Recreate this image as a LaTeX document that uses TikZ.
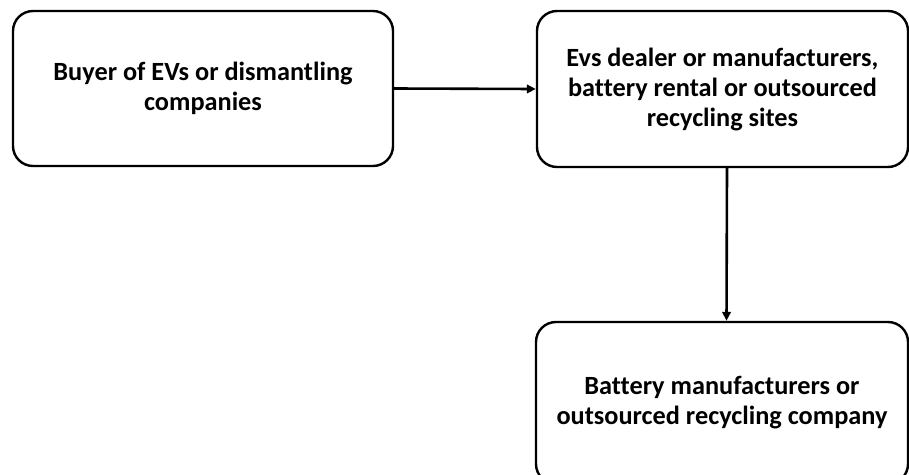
\documentclass[tikz,border=0pt]{standalone}
\usepackage{fontspec}
\setmainfont{Carlito}[Ligatures=NoCommon]
\usepackage{tikz}
\usetikzlibrary{arrows.meta}
\usetikzlibrary{positioning}
\tikzset{
    stage/.style={draw=black, line width=2.4pt, rounded corners=20pt, align=center,
        font=\bfseries\fontsize{26.3}{30}\selectfont, inner sep=0pt},
    flow/.style={draw=black, line width=2.6pt, -{Stealth[length=9pt,width=8.5pt,inset=0pt]}},
}

\begin{document}
\begin{tikzpicture}[x=1pt, y=-1pt]
			\path[use as bounding box] (0,0) rectangle (909,474);
			\clip (0,0) rectangle (909,474);
			\node[stage, minimum width=380pt, minimum height=155pt] (buyer) at (203,88.5)
				{Buyer of EVs or dismantling\\companies};
			\node[stage, minimum width=371pt, minimum height=156pt] (dealer) at (722.5,89)
				{Evs dealer or manufacturers,\\battery rental or outsourced\\recycling sites};
			\node[stage, minimum width=372pt, minimum height=162pt] (maker) at (722,403)
				{Battery manufacturers or\\outsourced recycling company};
			% connectors
			\draw[flow] (buyer.east) -- (dealer.west);
			\draw[flow] ([xshift=4.5pt]dealer.south) -- ([xshift=4.5pt]maker.north);
		\end{tikzpicture}
\end{document}
